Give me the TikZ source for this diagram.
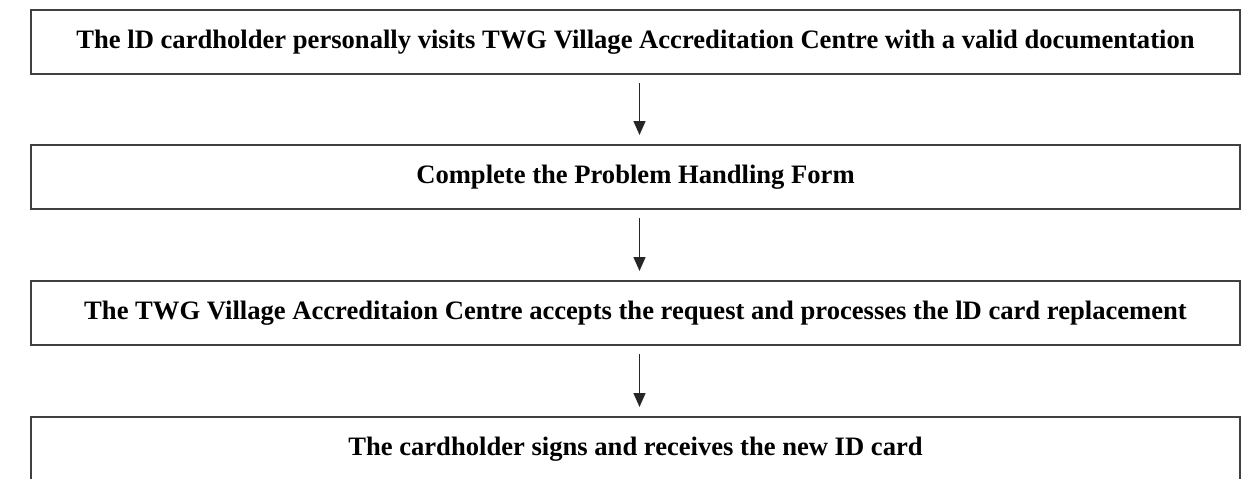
\documentclass[tikz,border=0pt]{standalone}
\usepackage{fontspec}
\setmainfont{Liberation Serif}
\usetikzlibrary{positioning,arrows.meta}

\tikzset{
    stepbox/.style={draw=black!75, line width=1pt, minimum width=604.5pt,
        minimum height=32pt, inner sep=0pt, font=\bfseries\fontsize{13.3}{16}\selectfont},
    flow/.style={-{Triangle[length=7pt,width=6pt]}, line width=0.7pt, black!85,
        shorten <=4pt, shorten >=4.5pt}
}

\begin{document}
\begin{tikzpicture}[x=0.5pt,y=-0.5pt]
    % Frame of the picture
    \useasboundingbox (0,0) rectangle (1241,478);
    \clip (0,0) rectangle (1241,478);

    % Steps
    \node[stepbox] (visit) at (635.5,42) {The lD cardholder personally visits TWG Village Accreditation Centre with a valid documentation};
    \node[stepbox] (form) at (635.5,177) {Complete the Problem Handling Form};
    \node[stepbox] (accept) at (635.5,313) {The TWG Village Accreditaion Centre accepts the request and processes the lD card replacement};
    \node[stepbox] (receive) at (635.5,449) {The cardholder signs and receives the new ID card};

    % Arrows between the steps
    \draw[flow] ([xshift=2pt]visit.south) -- ([xshift=2pt]form.north);
    \draw[flow] ([xshift=2pt]form.south) -- ([xshift=2pt]accept.north);
    \draw[flow] ([xshift=2pt]accept.south) -- ([xshift=2pt]receive.north);
\end{tikzpicture}
\end{document}
